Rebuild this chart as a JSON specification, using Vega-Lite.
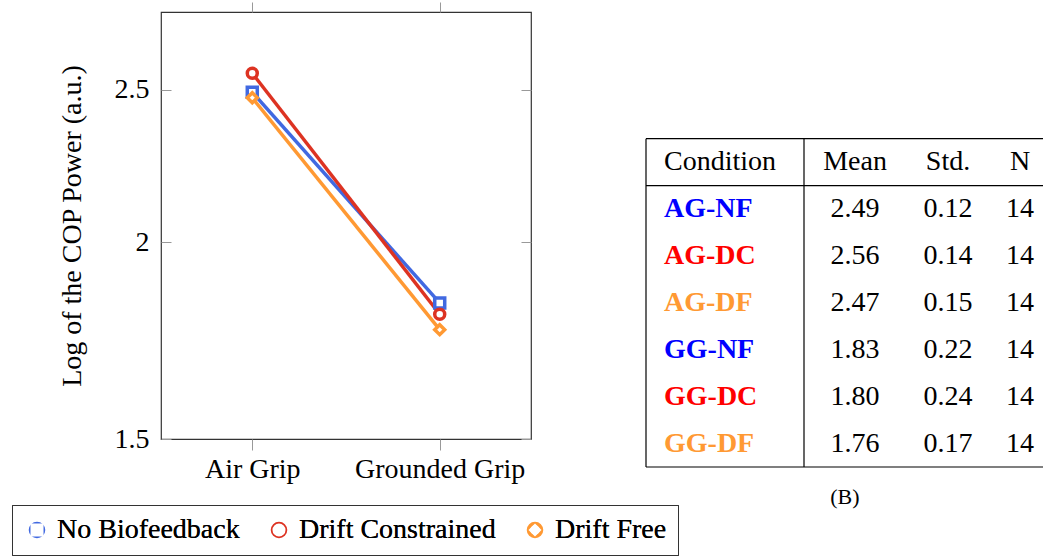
{
  "$schema": "https://vega.github.io/schema/vega-lite/v6.json",
  "padding": {"left": 10, "top": 0, "right": 0, "bottom": 0},
  "bounds": "flush",
  "spacing": 115,
  "resolve": {"scale": {"color": "independent"}, "legend": {"color": "independent"}},
  "config": {
    "font": "Liberation Serif",
    "view": {"stroke": null},
    "axis": {"labelFont": "Liberation Serif", "titleFont": "Liberation Serif", "labelColor": "#000", "titleColor": "#000", "grid": false},
    "legend": {"labelFont": "Liberation Serif"},
    "text": {"font": "Liberation Serif"}
  },
  "hconcat": [
    {
      "width": 370,
      "height": 427,
      "view": {"stroke": "#333", "strokeWidth": 1.2},
      "data": {"values": [
        {"grip": "Air Grip", "group": "No Biofeedback", "value": 2.49},
        {"grip": "Grounded Grip", "group": "No Biofeedback", "value": 1.83},
        {"grip": "Air Grip", "group": "Drift Constrained", "value": 2.56},
        {"grip": "Grounded Grip", "group": "Drift Constrained", "value": 1.80},
        {"grip": "Air Grip", "group": "Drift Free", "value": 2.47},
        {"grip": "Grounded Grip", "group": "Drift Free", "value": 1.76}
      ]},
      "resolve": {"axis": {"x": "independent", "y": "independent"}},
      "layer": [
        {
          "mark": {"type": "line", "strokeWidth": 3.5},
          "encoding": {
            "x": {"field": "grip", "type": "nominal", "sort": ["Air Grip", "Grounded Grip"],
                  "scale": {"type": "point", "padding": 0.487},
                  "axis": {"orient": "bottom", "title": null, "domain": false, "tickSize": 11, "tickColor": "#999", "labelAngle": 0, "labelPadding": 5, "labelFontSize": 28}},
            "y": {"field": "value", "type": "quantitative",
                  "scale": {"type": "log", "domain": [1.5, 2.8], "nice": false},
                  "axis": {"orient": "left", "values": [1.5, 2, 2.5], "format": "~g", "title": "Log of the COP Power (a.u.)", "domain": false, "tickSize": -10, "tickColor": "#999", "labelPadding": 22, "labelFontSize": 28, "titleFontSize": 28, "titleFontWeight": "normal", "titlePadding": 28}},
            "color": {"field": "group", "type": "nominal",
                      "scale": {"domain": ["No Biofeedback", "Drift Constrained", "Drift Free"], "range": ["#4169E1", "#DD3322", "#FF9933"]},
                      "legend": {"orient": "none", "legendX": -149, "legendY": 493, "direction": "horizontal", "columns": 3, "title": null, "strokeColor": "#333", "padding": 11, "labelFontSize": 28, "labelLimit": 0, "labelColor": "#000", "symbolStrokeWidth": 3.5, "symbolSize": 170, "symbolOpacity": 1, "symbolFillColor": "white", "columnPadding": 25, "labelOffset": 6}}
          }
        },
        {
          "mark": {"type": "point", "filled": false, "fill": "white", "fillOpacity": 1, "strokeWidth": 3.5, "size": 100, "opacity": 1},
          "encoding": {
            "x": {"field": "grip", "type": "nominal", "sort": ["Air Grip", "Grounded Grip"],
                  "axis": {"orient": "top", "labels": false, "title": null, "domain": false, "tickSize": 10, "tickColor": "#999"}},
            "y": {"field": "value", "type": "quantitative",
                  "axis": {"orient": "right", "values": [1.5, 2, 2.5], "labels": false, "title": null, "domain": false, "tickSize": -10, "tickColor": "#999"}},
            "color": {"field": "group", "type": "nominal",
                      "legend": {"orient": "none", "legendX": -149, "legendY": 493, "direction": "horizontal", "columns": 3, "title": null, "strokeColor": "#333", "padding": 11, "labelFontSize": 28, "labelLimit": 0, "labelColor": "#000", "symbolStrokeWidth": 3.5, "symbolSize": 170, "symbolOpacity": 1, "symbolFillColor": "white", "columnPadding": 25, "labelOffset": 6}},
            "shape": {"field": "group", "type": "nominal",
                      "scale": {"domain": ["No Biofeedback", "Drift Constrained", "Drift Free"], "range": ["square", "circle", "diamond"]},
                      "legend": {"orient": "none", "legendX": -149, "legendY": 493, "direction": "horizontal", "columns": 3, "title": null, "strokeColor": "#333", "padding": 11, "labelFontSize": 28, "labelLimit": 0, "labelColor": "#000", "symbolStrokeWidth": 3.5, "symbolSize": 170, "symbolOpacity": 1, "symbolFillColor": "white", "columnPadding": 25, "labelOffset": 6}}
          }
        }
      ]
    },
    {
      "width": 400,
      "height": 455,
      "encoding": {
        "x": {"field": "col", "type": "quantitative", "scale": {"domain": [0, 1, 2, 3, 4, 5, 6], "range": [0, 18, 158, 209, 302, 374, 400], "nice": false, "zero": false}, "axis": null},
        "y": {"field": "row", "type": "quantitative", "scale": {"domain": [-3.2, 6.5], "reverse": true, "nice": false, "zero": false}, "axis": null}
      },
      "layer": [
        {
          "data": {"values": [
            {"col": 0, "col2": 6, "row": -0.5, "row2": -0.5},
            {"col": 0, "col2": 6, "row": 0.5, "row2": 0.5},
            {"col": 0, "col2": 6, "row": 6.5, "row2": 6.5},
            {"col": 0, "col2": 0, "row": -0.5, "row2": 6.5},
            {"col": 2, "col2": 2, "row": -0.5, "row2": 6.5}
          ]},
          "mark": {"type": "rule", "color": "#000", "strokeWidth": 1.2},
          "encoding": {"x2": {"field": "col2"}, "y2": {"field": "row2"}}
        },
        {
          "data": {"values": [
            {"row": 0, "col": 1, "text": "Condition"}
          ]},
          "mark": {"type": "text", "align": "left", "baseline": "middle", "fontSize": 28, "color": "#000"},
          "encoding": {"text": {"field": "text"}}
        },
        {
          "data": {"values": [
            {"row": 1, "col": 1, "text": "AG-NF", "grp": "NF"},
            {"row": 2, "col": 1, "text": "AG-DC", "grp": "DC"},
            {"row": 3, "col": 1, "text": "AG-DF", "grp": "DF"},
            {"row": 4, "col": 1, "text": "GG-NF", "grp": "NF"},
            {"row": 5, "col": 1, "text": "GG-DC", "grp": "DC"},
            {"row": 6, "col": 1, "text": "GG-DF", "grp": "DF"}
          ]},
          "mark": {"type": "text", "align": "left", "baseline": "middle", "fontSize": 28, "fontWeight": "bold"},
          "encoding": {
            "text": {"field": "text"},
            "color": {"field": "grp", "type": "nominal", "scale": {"domain": ["NF", "DC", "DF"], "range": ["#0000FF", "#FF0000", "#FF9933"]}, "legend": null}
          }
        },
        {
          "data": {"values": [
            {"row": 0, "col": 3, "text": "Mean"},
            {"row": 0, "col": 4, "text": "Std."},
            {"row": 0, "col": 5, "text": "N"},
            {"row": 1, "col": 3, "text": "2.49"}, {"row": 1, "col": 4, "text": "0.12"}, {"row": 1, "col": 5, "text": "14"},
            {"row": 2, "col": 3, "text": "2.56"}, {"row": 2, "col": 4, "text": "0.14"}, {"row": 2, "col": 5, "text": "14"},
            {"row": 3, "col": 3, "text": "2.47"}, {"row": 3, "col": 4, "text": "0.15"}, {"row": 3, "col": 5, "text": "14"},
            {"row": 4, "col": 3, "text": "1.83"}, {"row": 4, "col": 4, "text": "0.22"}, {"row": 4, "col": 5, "text": "14"},
            {"row": 5, "col": 3, "text": "1.80"}, {"row": 5, "col": 4, "text": "0.24"}, {"row": 5, "col": 5, "text": "14"},
            {"row": 6, "col": 3, "text": "1.76"}, {"row": 6, "col": 4, "text": "0.17"}, {"row": 6, "col": 5, "text": "14"}
          ]},
          "mark": {"type": "text", "align": "center", "baseline": "middle", "fontSize": 28, "color": "#000"},
          "encoding": {"text": {"field": "text"}}
        },
        {
          "data": {"values": [
            {"row": 7.15, "col": 2.8, "text": "(B)"}
          ]},
          "mark": {"type": "text", "align": "center", "baseline": "middle", "fontSize": 22, "color": "#000"},
          "encoding": {"text": {"field": "text"}}
        }
      ]
    }
  ]
}
